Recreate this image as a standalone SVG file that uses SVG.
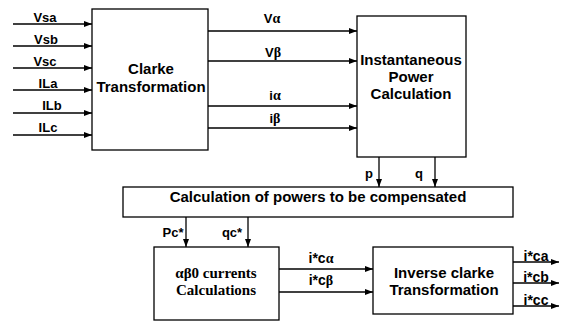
<svg xmlns="http://www.w3.org/2000/svg" width="566" height="322" viewBox="0 0 566 322">
<style>
.box{fill:#fff;stroke:#000;stroke-width:1.3}
.ln{stroke:#000;stroke-width:1.3;fill:none}
.big{font-family:"Liberation Sans",Arial,sans-serif;font-weight:bold;font-size:15px;fill:#000;text-anchor:middle}
.ser{font-family:"Liberation Serif","Times New Roman",serif;font-weight:bold;font-size:15px;fill:#000;text-anchor:middle}
.lbl{font-family:"Liberation Sans",Arial,sans-serif;font-weight:bold;font-size:13px;fill:#000;text-anchor:middle}
.lbl2{font-size:14px}
.gr{font-family:"Liberation Serif","Times New Roman",serif;font-weight:bold;font-size:14px}
</style>
<defs>
<marker id="ah" markerUnits="userSpaceOnUse" markerWidth="8" markerHeight="6" refX="8" refY="3" orient="auto">
<path d="M0,0 L8,3 L0,6 Z" fill="#000"/>
</marker>
</defs>
<g id="connectors">
<line class="ln" x1="13" y1="24" x2="92" y2="24" marker-end="url(#ah)"/>
<line class="ln" x1="13" y1="46" x2="92" y2="46" marker-end="url(#ah)"/>
<line class="ln" x1="13" y1="68" x2="92" y2="68" marker-end="url(#ah)"/>
<line class="ln" x1="13" y1="90" x2="92" y2="90" marker-end="url(#ah)"/>
<line class="ln" x1="13" y1="113" x2="92" y2="113" marker-end="url(#ah)"/>
<line class="ln" x1="13" y1="135" x2="92" y2="135" marker-end="url(#ah)"/>
<line class="ln" x1="208" y1="31" x2="357" y2="31" marker-end="url(#ah)"/>
<line class="ln" x1="208" y1="61" x2="357" y2="61" marker-end="url(#ah)"/>
<line class="ln" x1="208" y1="106" x2="357" y2="106" marker-end="url(#ah)"/>
<line class="ln" x1="208" y1="128" x2="357" y2="128" marker-end="url(#ah)"/>
<line class="ln" x1="379" y1="157" x2="379" y2="187" marker-end="url(#ah)"/>
<line class="ln" x1="435" y1="157" x2="435" y2="187" marker-end="url(#ah)"/>
<line class="ln" x1="186" y1="217" x2="186" y2="247" marker-end="url(#ah)"/>
<line class="ln" x1="248" y1="217" x2="248" y2="247" marker-end="url(#ah)"/>
<line class="ln" x1="279" y1="269" x2="373" y2="269" marker-end="url(#ah)"/>
<line class="ln" x1="279" y1="292" x2="373" y2="292" marker-end="url(#ah)"/>
<line class="ln" x1="513" y1="262" x2="559" y2="262" marker-end="url(#ah)"/>
<line class="ln" x1="513" y1="283" x2="559" y2="283" marker-end="url(#ah)"/>
<line class="ln" x1="513" y1="306" x2="559" y2="306" marker-end="url(#ah)"/>
<text class="lbl" x="45" y="21.5">Vsa</text>
<text class="lbl" x="46" y="43.5">Vsb</text>
<text class="lbl" x="45" y="65.5">Vsc</text>
<text class="lbl" x="48" y="87.5">ILa</text>
<text class="lbl" x="52" y="110">ILb</text>
<text class="lbl" x="48" y="132">ILc</text>
<text class="lbl" x="272" y="22.5">V<tspan class="gr">α</tspan></text>
<text class="lbl" x="273" y="56.5">V<tspan class="gr">β</tspan></text>
<text class="lbl" x="275" y="100">i<tspan class="gr">α</tspan></text>
<text class="lbl" x="275" y="123">i<tspan class="gr">β</tspan></text>
<text class="lbl" x="369" y="178">p</text>
<text class="lbl" x="419" y="178">q</text>
<text class="lbl" x="173" y="236.5">Pc*</text>
<text class="lbl" x="232" y="236.5">qc*</text>
<text class="lbl lbl2" x="321" y="263">i*c<tspan class="gr">α</tspan></text>
<text class="lbl lbl2" x="321" y="285">i*c<tspan class="gr">β</tspan></text>
<text class="lbl lbl2" x="536" y="260.5">i*ca</text>
<text class="lbl lbl2" x="536" y="282">i*cb</text>
<text class="lbl lbl2" x="536" y="305">i*cc</text>
</g>
<g id="clarke">
<rect class="box" x="92" y="9" width="116" height="141"/>
<text class="big" x="151" y="73.5">Clarke</text>
<text class="big" x="151" y="91.5">Transformation</text>
</g>
<g id="instantaneous">
<rect class="box" x="357" y="16" width="109" height="141"/>
<text class="big" x="411" y="65">Instantaneous</text>
<text class="big" x="411" y="82">Power</text>
<text class="big" x="411" y="99">Calculation</text>
</g>
<g id="compensation">
<rect class="box" x="123" y="187" width="390" height="30"/>
<text class="big" x="318" y="202">Calculation of powers to be compensated</text>
</g>
<g id="currents">
<rect class="box" x="154" y="247" width="125" height="73"/>
<text class="ser" x="216" y="278">αβ0 currents</text>
<text class="ser" x="216" y="295">Calculations</text>
</g>
<g id="inverse">
<rect class="box" x="373" y="247" width="140" height="67"/>
<text class="big" x="444" y="278">Inverse clarke</text>
<text class="big" x="444" y="295">Transformation</text>
</g>
</svg>
